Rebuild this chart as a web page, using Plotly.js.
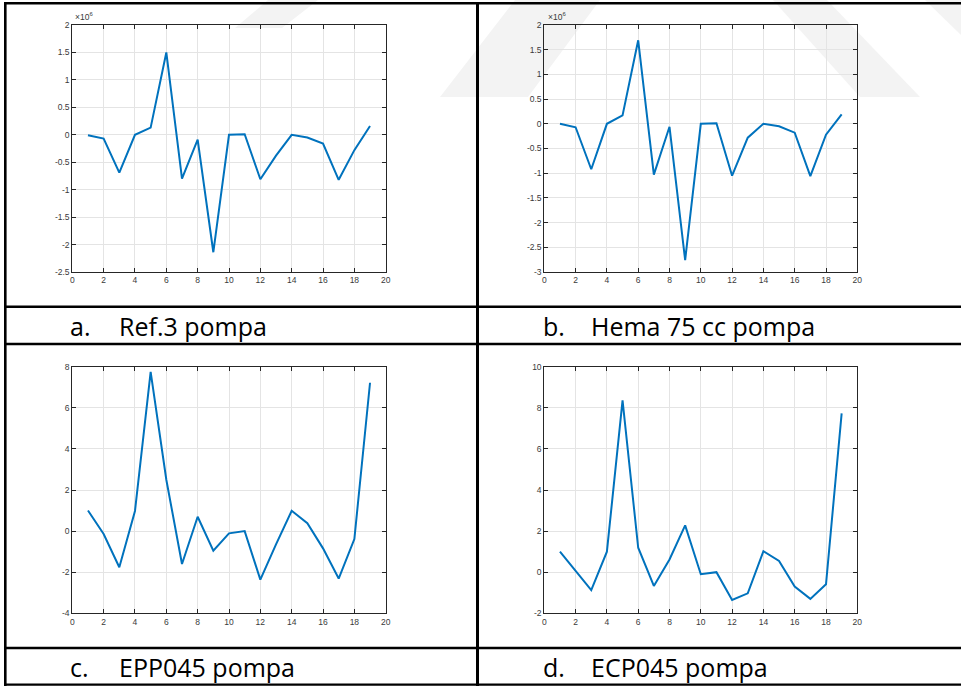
<!DOCTYPE html>
<html>
<head>
<meta charset="utf-8">
<script src="https://cdn.plot.ly/plotly-3.0.1.min.js"></script>
<style>html,body{margin:0;padding:0;background:#fff;}#chart{width:961px;height:686px;}</style>
</head>
<body>
<div id="chart"></div>
<script>
// ---- data ----
const xIndex = [1,2,3,4,5,6,7,8,9,10,11,12,13,14,15,16,17,18,19];
// values in units of 10^6 (panels a, b)
const ref3Pompa = [-0.01,-0.07,-0.69,0.00,0.13,1.50,-0.80,-0.09,-2.14,0.00,0.01,-0.81,-0.38,0.00,-0.05,-0.16,-0.82,-0.28,0.16];
const hema75Pompa = [0.00,-0.07,-0.92,0.00,0.17,1.69,-1.03,-0.06,-2.76,0.00,0.01,-1.05,-0.28,0.00,-0.05,-0.18,-1.06,-0.22,0.19];
const epp045Pompa = [1.0,-0.14,-1.76,0.98,7.75,2.5,-1.6,0.70,-0.95,-0.11,0.0,-2.36,-0.65,0.99,0.38,-0.84,-2.31,-0.39,7.22];
const ecp045Pompa = [1.0,0.08,-0.87,1.0,8.36,1.19,-0.67,0.62,2.28,-0.1,0.0,-1.35,-1.03,1.02,0.55,-0.7,-1.3,-0.59,7.73];
const scaleAB = 1e6;

const xTicks = ['0','2','4','6','8','10','12','14','16','18','20'];
const yTicksA = ['-2.5','-2','-1.5','-1','-0.5','0','0.5','1','1.5','2'];
const yTicksB = ['-3','-2.5','-2','-1.5','-1','-0.5','0','0.5','1','1.5','2'];
const yTicksC = ['-4','-2','0','2','4','6','8'];
const yTicksD = ['-2','0','2','4','6','8','10'];
const captionLetters = ['a.','b.','c.','d.'];
const captionNames = ['Ref.3 pompa','Hema 75 cc pompa','EPP045 pompa','ECP045 pompa'];

// ---- helpers ----
const W = 961, H = 686;
const px = x => x / W;
const py = y => 1 - y / H;

const lineColor = '#0072BD';
function axisCommon() {
  return {
    showline: true, linecolor: '#262626', linewidth: 1, mirror: 'ticks',
    ticks: 'inside', ticklen: 4, tickwidth: 1, tickcolor: '#262626',
    showgrid: true, gridcolor: '#e4e4e4', gridwidth: 1, zeroline: false,
    tickfont: {family: 'Liberation Sans, Arial, sans-serif', size: 8.5, color: '#3a3a3a'},
    fixedrange: true
  };
}
function xAxis(domainPx, anchor) {
  const a = axisCommon();
  a.domain = [px(domainPx[0]), px(domainPx[1])];
  a.anchor = anchor;
  a.range = [0, 20];
  a.tickmode = 'array';
  a.tickvals = xTicks.map(Number);
  a.ticktext = xTicks;
  return a;
}
function yAxis(domainPx, anchor, labels, scale) {
  const a = axisCommon();
  a.domain = [py(domainPx[1]), py(domainPx[0])];
  a.anchor = anchor;
  const vals = labels.map(t => Number(t) * scale);
  a.range = [vals[0], vals[vals.length - 1]];
  a.tickmode = 'array';
  a.tickvals = vals;
  a.ticktext = labels;
  return a;
}

const traces = [
  {x: xIndex, y: ref3Pompa.map(v => v * scaleAB), xaxis: 'x', yaxis: 'y'},
  {x: xIndex, y: hema75Pompa.map(v => v * scaleAB), xaxis: 'x2', yaxis: 'y2'},
  {x: xIndex, y: epp045Pompa, xaxis: 'x3', yaxis: 'y3'},
  {x: xIndex, y: ecp045Pompa, xaxis: 'x4', yaxis: 'y4'}
].map(t => Object.assign(t, {type: 'scatter', mode: 'lines', line: {color: lineColor, width: 2}, hoverinfo: 'skip'}));

const leftX = [72.3, 385.7], rightX = [544.3, 857.3];
const topY = [25, 272], botY = [366.7, 613.3];

// table lines
const shapes = [];
function hline(y, x0, x1, w) {
  shapes.push({type: 'line', xref: 'paper', yref: 'paper', x0: px(x0), x1: px(x1), y0: py(y), y1: py(y), line: {color: '#000', width: w}, layer: 'above'});
}
function vline(x, y0, y1, w) {
  shapes.push({type: 'line', xref: 'paper', yref: 'paper', x0: px(x), x1: px(x), y0: py(y0), y1: py(y1), line: {color: '#000', width: w}, layer: 'above'});
}
// watermark (faint)
function poly(pts) {
  let d = 'M ' + pts.map(p => px(p[0]).toFixed(5) + ',' + py(p[1]).toFixed(5)).join(' L ') + ' Z';
  shapes.push({type: 'path', xref: 'paper', yref: 'paper', path: d, fillcolor: '#f3f3f3', line: {width: 0}, layer: 'below'});
}
poly([[440,97],[528,97],[600,0],[515,0]]);
poly([[773,0],[827,0],[920,97],[860,97]]);
poly([[925,0],[961,0],[961,35]]);
poly([[235,28],[282,28],[318,0],[268,0]]);

hline(3.2, 4, 961, 2.6);
hline(306.7, 4, 961, 2.6);
hline(344, 4, 961, 2.6);
hline(648, 4, 961, 2.6);
hline(684.7, 4, 961, 2.2);
vline(5.3, 2, 686, 2.6);
vline(477.5, 2, 686, 3);

const annotations = [];
function ann(text, x, y, size, family, xanchor, yanchor, color) {
  annotations.push({text: text, xref: 'paper', yref: 'paper', x: px(x), y: py(y), showarrow: false,
    xanchor: xanchor, yanchor: yanchor, font: {family: family, size: size, color: color}});
}
const capFont = 'Open Sans, Noto Sans, sans-serif';
const capPos = [[68, 117, 326], [541, 589, 326], [68, 117, 667], [541, 589, 667]];
captionLetters.forEach((c, i) => {
  ann(c, capPos[i][0], capPos[i][2], 25, capFont, 'left', 'middle', '#000');
  ann(captionNames[i], capPos[i][1], capPos[i][2], 25, capFont, 'left', 'middle', '#000');
});
ann('×10<sup>6</sup>', 72.5, 24, 8.5, 'Liberation Sans, Arial, sans-serif', 'left', 'bottom', '#3a3a3a');
ann('×10<sup>6</sup>', 545.5, 24, 8.5, 'Liberation Sans, Arial, sans-serif', 'left', 'bottom', '#3a3a3a');

const layout = {
  width: W, height: H, margin: {l: 0, r: 0, t: 0, b: 0},
  paper_bgcolor: '#fff', plot_bgcolor: 'rgba(0,0,0,0)', showlegend: false,
  xaxis: xAxis(leftX, 'y'), yaxis: yAxis(topY, 'x', yTicksA, scaleAB),
  xaxis2: xAxis(rightX, 'y2'), yaxis2: yAxis(topY, 'x2', yTicksB, scaleAB),
  xaxis3: xAxis(leftX, 'y3'), yaxis3: yAxis(botY, 'x3', yTicksC, 1),
  xaxis4: xAxis(rightX, 'y4'), yaxis4: yAxis(botY, 'x4', yTicksD, 1),
  shapes: shapes, annotations: annotations
};

Plotly.newPlot('chart', traces, layout, {staticPlot: true, displayModeBar: false});
</script>
</body>
</html>
